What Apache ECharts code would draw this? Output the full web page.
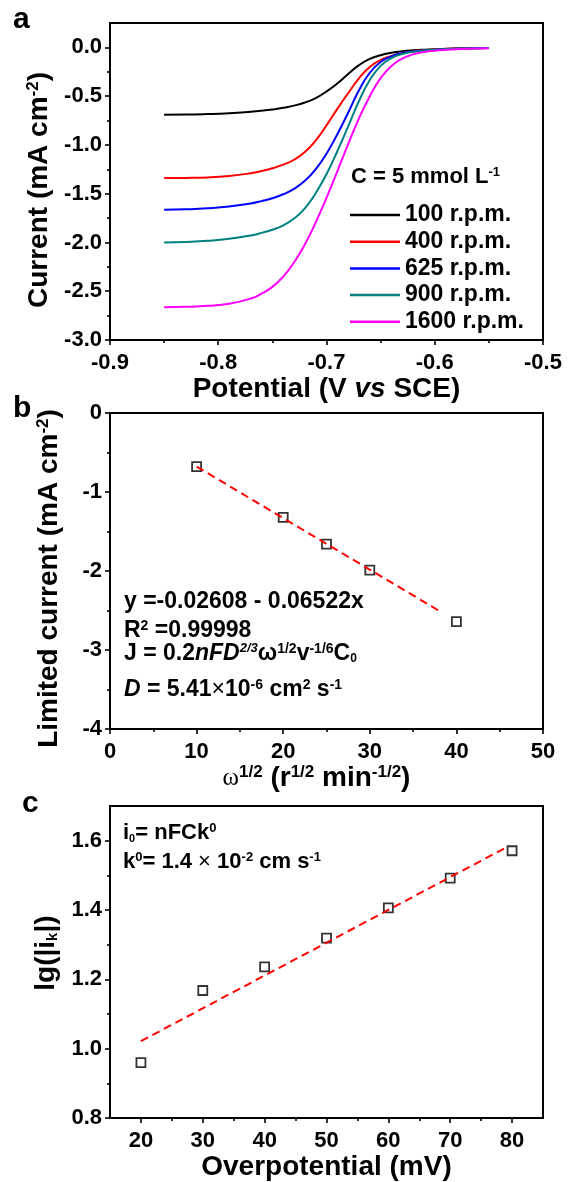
<!DOCTYPE html>
<html>
<head>
<meta charset="utf-8">
<script src="https://cdn.jsdelivr.net/npm/echarts@6/dist/echarts.min.js"></script>
<style>
  html, body { margin: 0; padding: 0; background: #fff; }
  #chart { width: 569px; height: 1182px; }
</style>
</head>
<body>
<div id="chart"></div>
<script>
// ---------- Panel a: linear sweep voltammograms (current vs potential) ----------
const potential = [-0.85, -0.83, -0.81, -0.79, -0.77, -0.76, -0.75, -0.74, -0.73, -0.72, -0.71, -0.70,
                   -0.69, -0.68, -0.67, -0.66, -0.65, -0.64, -0.63, -0.62, -0.61, -0.60, -0.58, -0.55];
const current100  = [-0.690, -0.689, -0.684, -0.675, -0.660, -0.650, -0.637, -0.620, -0.597, -0.565, -0.520, -0.452,
                     -0.370, -0.272, -0.182, -0.118, -0.080, -0.056, -0.040, -0.030, -0.023, -0.018, -0.011, -0.007];
const current400  = [-1.340, -1.338, -1.333, -1.318, -1.290, -1.268, -1.240, -1.202, -1.152, -1.072, -0.955, -0.800,
                     -0.630, -0.470, -0.318, -0.200, -0.130, -0.088, -0.058, -0.040, -0.029, -0.021, -0.012, -0.007];
const current625  = [-1.665, -1.660, -1.650, -1.632, -1.600, -1.576, -1.546, -1.506, -1.450, -1.368, -1.250, -1.090,
                     -0.890, -0.670, -0.440, -0.260, -0.150, -0.092, -0.060, -0.042, -0.031, -0.023, -0.013, -0.007];
const current900  = [-2.000, -1.994, -1.983, -1.963, -1.928, -1.902, -1.870, -1.825, -1.755, -1.650, -1.495, -1.300,
                     -1.065, -0.810, -0.550, -0.335, -0.190, -0.110, -0.068, -0.046, -0.033, -0.024, -0.013, -0.007];
const current1600 = [-2.665, -2.660, -2.650, -2.628, -2.575, -2.525, -2.455, -2.350, -2.205, -2.020, -1.795, -1.542,
                     -1.270, -0.992, -0.727, -0.500, -0.315, -0.190, -0.115, -0.072, -0.048, -0.034, -0.018, -0.009];
const rateNames  = ['100 r.p.m.', '400 r.p.m.', '625 r.p.m.', '900 r.p.m.', '1600 r.p.m.'];
const rateColors = ['#000000', '#ff0000', '#0000ff', '#008080', '#ff00ff'];
const aXTicks = [-0.9, -0.8, -0.7, -0.6, -0.5];
const aXMinor = [-0.85, -0.75, -0.65, -0.55];
const aYTicks = [-3.0, -2.5, -2.0, -1.5, -1.0, -0.5, 0.0];
const aYMinor = [-2.75, -2.25, -1.75, -1.25, -0.75, -0.25];

// ---------- Panel b: Levich plot ----------
const sqrtOmega = [10, 20, 25, 30, 40];
const limitedCurrent = [-0.68, -1.32, -1.66, -1.99, -2.64];
const levichIntercept = -0.02608;
const levichSlope = -0.06522;
const levichFitRange = [10, 38.3];
const bXTicks = [0, 10, 20, 30, 40, 50];
const bXMinor = [5, 15, 25, 35, 45];
const bYTicks = [-4, -3, -2, -1, 0];
const bYMinor = [-3.5, -2.5, -1.5, -0.5];

// ---------- Panel c: Tafel-type plot ----------
const overpotential = [20, 30, 40, 50, 60, 70, 80];
const lgIk = [0.960, 1.168, 1.236, 1.319, 1.406, 1.492, 1.571];
const lgIkFit = [[20, 1.022], [79, 1.580]];
const cXTicks = [20, 30, 40, 50, 60, 70, 80];
const cXMinor = [25, 35, 45, 55, 65, 75];
const cYTicks = [0.8, 1.0, 1.2, 1.4, 1.6];
const cYMinor = [0.9, 1.1, 1.3, 1.5];

const FONT = "'Liberation Sans', Arial, sans-serif";
const SERIF = "'Liberation Serif', 'Times New Roman', serif";

function sty(size, extra) {
  return Object.assign({ fontSize: size, fontWeight: 'bold', fontFamily: FONT, color: '#000' }, extra || {});
}
function richSet(base) {
  return {
    sup: sty(Math.round(base * 0.6), { verticalAlign: 'top' }),
    sub: sty(Math.round(base * 0.52), { verticalAlign: 'bottom' }),
    it: sty(base, { fontStyle: 'italic' }),
    itsup: sty(Math.round(base * 0.56), { fontStyle: 'italic', verticalAlign: 'top' }),
    times: sty(base, { fontWeight: 'normal' }),
    om: { fontSize: base - 3, fontFamily: SERIF, fontWeight: 'normal', color: '#000' }
  };
}

const LINE = { color: '#000', width: 2 };
const TICK = { color: '#000', width: 1.6 };
const TICK_FONT = 22;
const NAME_FONT = 28;

// main axis (line, major ticks, labels) plus a companion axis that carries the minor ticks
function axisPair(isX, grid, min, max, majors, minors, fmt, nameCfg) {
  const main = {
    type: 'value', gridIndex: grid, min: min, max: max,
    position: isX ? 'bottom' : 'left',
    axisLine: { show: true, onZero: false, lineStyle: LINE },
    axisTick: { show: true, inside: false, length: 5, lineStyle: TICK, customValues: majors },
    axisLabel: {
      customValues: majors, formatter: fmt, margin: isX ? 12 : 8,
      fontSize: TICK_FONT, fontWeight: 'bold', fontFamily: FONT, color: '#000'
    },
    splitLine: { show: false }
  };
  Object.assign(main, nameCfg || {});
  const minor = {
    type: 'value', gridIndex: grid, min: min, max: max,
    position: isX ? 'bottom' : 'left',
    axisLine: { show: false, onZero: false },
    axisTick: { show: true, inside: false, length: 3, lineStyle: TICK, customValues: minors },
    axisLabel: { show: false },
    splitLine: { show: false }
  };
  return [main, minor];
}

const f1 = v => v.toFixed(1);
const f0 = v => String(Math.round(v));

function nameStyle(padding) {
  return { fontSize: NAME_FONT, fontWeight: 'bold', fontFamily: FONT, color: '#000', padding: padding || 0, rich: richSet(NAME_FONT) };
}

const aX = axisPair(true, 0, -0.9, -0.5, aXTicks, aXMinor, f1, {
  name: 'Potential (V {it|vs} SCE)', nameLocation: 'middle', nameGap: 30, nameTextStyle: nameStyle()
});
const aY = axisPair(false, 0, -3.0, 0.25, aYTicks, aYMinor, f1, {
  name: 'Current (mA cm{sup|-2})', nameLocation: 'middle', nameGap: 49, nameTextStyle: nameStyle([0, 17, 0, 0])
});
const bX = axisPair(true, 1, 0, 50, bXTicks, bXMinor, f0, {
  name: '{om|ω}{sup|1/2} (r{sup|1/2} min{sup|-1/2})', nameLocation: 'middle', nameGap: 35, nameTextStyle: nameStyle([0, 20, 0, 0])
});
const bY = axisPair(false, 1, -4, 0, bYTicks, bYMinor, f0, {
  name: 'Limited current (mA cm{sup|-2})', nameLocation: 'middle', nameGap: 47, nameTextStyle: nameStyle([0, 15, 0, 0])
});
const cX = axisPair(true, 2, 15, 85, cXTicks, cXMinor, f0, {
  name: 'Overpotential (mV)', nameLocation: 'middle', nameGap: 30, nameTextStyle: nameStyle()
});
const cY = axisPair(false, 2, 0.8, 1.7, cYTicks, cYMinor, f1, {
  name: 'lg(|i{sub|k}|)', nameLocation: 'middle', nameGap: 49, nameTextStyle: nameStyle([0, 0, 0, 18])
});

const levichLine = levichFitRange.map(x => [x, levichIntercept + levichSlope * x]);

function textBlock(text, left, top, size) {
  return {
    text: text, left: left, top: top, padding: 0,
    textStyle: { fontSize: size, fontWeight: 'bold', fontFamily: FONT, color: '#000', rich: richSet(size) }
  };
}

const gridBox = { show: true, borderColor: '#000', borderWidth: 2, backgroundColor: 'transparent', containLabel: false };
const squareStyle = { color: 'rgba(255,255,255,0)', borderColor: '#000', borderWidth: 1.8 };

const option = {
  animation: false,
  backgroundColor: '#fff',
  grid: [
    Object.assign({ left: 110, top: 23, width: 433, height: 317 }, gridBox),
    Object.assign({ left: 110, top: 413, width: 433, height: 316 }, gridBox),
    Object.assign({ left: 110, top: 806, width: 433, height: 317 }, gridBox)
  ],
  xAxis: [aX[0], aX[1], bX[0], bX[1], cX[0], cX[1]],
  yAxis: [aY[0], aY[1], bY[0], bY[1], cY[0], cY[1]],
  title: [
    textBlock('a', 13, 5, 30),
    textBlock('b', 13, 394, 30),
    textBlock('c', 22, 789, 30),
    textBlock('C = 5 mmol L{sup|-1}', 351, 166, 22),
    textBlock('y =-0.02608 - 0.06522x', 124, 590, 23),
    textBlock('R{sup|2} =0.99998', 124, 619, 23),
    textBlock('J = 0.2{it|nFD}{itsup|2/3}ω{sup|1/2}v{sup|-1/6}C{sub|0}', 124, 642, 23),
    textBlock('{it|D} = 5.41{times|×}10{sup|-6} cm{sup|2} s{sup|-1}', 124, 678, 23),
    textBlock('i{sub|0}= nFCk{sup|0}', 123, 822, 22),
    textBlock('k{sup|0}= 1.4 {times|×} 10{sup|-2} cm s{sup|-1}', 123, 851, 22)
  ],
  legend: {
    orient: 'vertical', left: 350, top: 203.5, padding: 0,
    itemWidth: 50, itemHeight: 2.5, itemGap: 3.7, icon: 'rect',
    textStyle: { fontSize: 23, lineHeight: 23, fontWeight: 'bold', fontFamily: FONT, color: '#000' },
    data: rateNames
  },
  series: [current100, current400, current625, current900, current1600].map((vals, i) => ({
    name: rateNames[i], type: 'line', xAxisIndex: 0, yAxisIndex: 0,
    data: potential.map((p, j) => [p, vals[j]]),
    showSymbol: false, symbol: 'none', smooth: 0.5,
    color: rateColors[i], lineStyle: { color: rateColors[i], width: 2 }
  })).concat([
    {
      type: 'line', xAxisIndex: 2, yAxisIndex: 2, data: levichLine, symbol: 'none',
      lineStyle: { color: '#ff0000', width: 2, type: [8, 5] }
    },
    {
      type: 'scatter', xAxisIndex: 2, yAxisIndex: 2,
      data: sqrtOmega.map((x, i) => [x, limitedCurrent[i]]),
      symbol: 'rect', symbolSize: 9, itemStyle: squareStyle
    },
    {
      type: 'line', xAxisIndex: 4, yAxisIndex: 4, data: lgIkFit, symbol: 'none',
      lineStyle: { color: '#ff0000', width: 2, type: [8, 5] }
    },
    {
      type: 'scatter', xAxisIndex: 4, yAxisIndex: 4,
      data: overpotential.map((x, i) => [x, lgIk[i]]),
      symbol: 'rect', symbolSize: 9, itemStyle: squareStyle
    }
  ])
};

const chart = echarts.init(document.getElementById('chart'), null, { renderer: 'canvas' });
chart.setOption(option);
</script>
</body>
</html>
